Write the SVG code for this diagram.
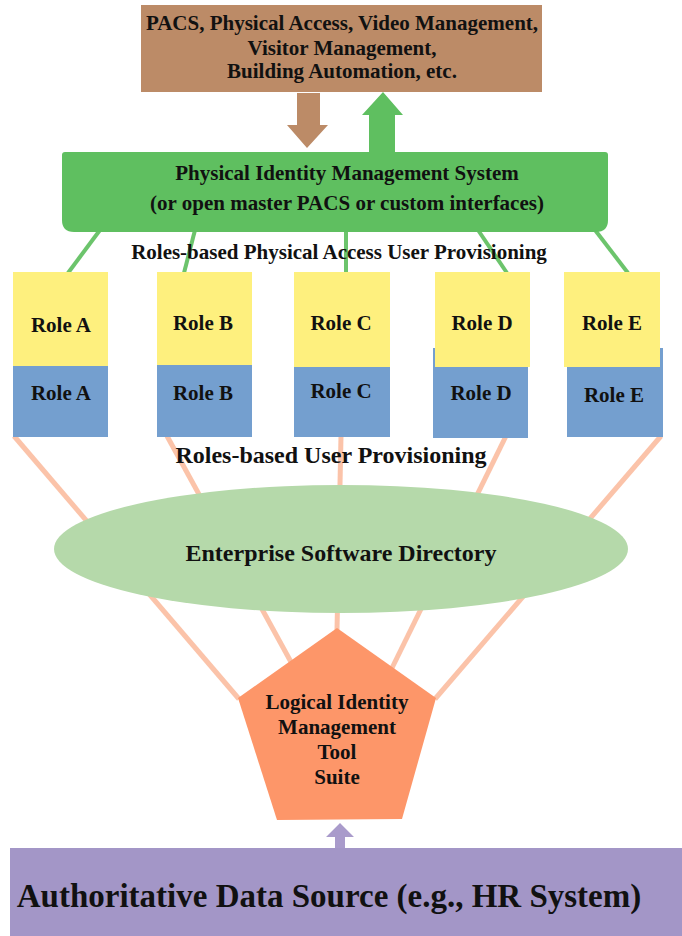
<svg xmlns="http://www.w3.org/2000/svg" width="682" height="936" viewBox="0 0 682 936">
  <style>
    text { font-family: "Liberation Serif", "Times New Roman", serif; font-weight: bold; fill: #111; text-anchor: middle; }
    .t21 { font-size: 21px; }
    .t24 { font-size: 24px; }
    .role { font-size: 21px; }
    .yellow { fill: #FEF07E; }
    .blue { fill: #749FCF; }
    .gline { stroke: #6CC46C; stroke-width: 4; stroke-linecap: butt; }
    .oline { stroke: #FBC3A9; stroke-width: 5; stroke-linecap: butt; }
  </style>

  <rect width="682" height="936" fill="#ffffff"/>

  <!-- connectors -->
  <g id="connectors">
    <!-- physical access provisioning links -->
    <line class="gline" x1="100" y1="230" x2="68" y2="273"/>
    <line class="gline" x1="195" y1="230" x2="184" y2="273"/>
    <line class="gline" x1="346" y1="230" x2="346" y2="273"/>
    <line class="gline" x1="478" y1="230" x2="507" y2="273"/>
    <line class="gline" x1="595" y1="230" x2="628" y2="273"/>
    <!-- user provisioning links, role to identity tool -->
    <line class="oline" x1="14" y1="436" x2="239" y2="699"/>
    <line class="oline" x1="167" y1="436" x2="291" y2="662"/>
    <line class="oline" x1="341" y1="436" x2="337" y2="630"/>
    <line class="oline" x1="506" y1="436" x2="392" y2="668"/>
    <line class="oline" x1="661" y1="436" x2="435" y2="699"/>
    <!-- brown down arrow -->
    <path d="M297,93 H320 V125 H328 L307,148 L287,125 H297 Z" fill="#BC8B67"/>
    <!-- green up arrow -->
    <path d="M383,92 L403,115 H395 V153 H369 V115 H362 Z" fill="#5FBF60"/>
    <!-- purple up arrow -->
    <path d="M340,823 L354,837 H345 V849 H335 V837 H326 Z" fill="#A99BCB"/>
  </g>

  <!-- top systems box -->
  <g id="systems">
    <rect x="141" y="5" width="401" height="87" fill="#BC8B67"/>
    <text class="t21" x="342" y="30">PACS, Physical Access, Video Management,</text>
    <text class="t21" x="342" y="55">Visitor Management,</text>
    <text class="t21" x="342" y="78">Building Automation, etc.</text>
  </g>

  <!-- physical identity management system -->
  <g id="pims">
    <path d="M65,152 H605 Q608,152 608,155 V220 Q608,232 596,232 H74 Q62,232 62,220 V155 Q62,152 65,152 Z" fill="#5FBF60"/>
    <text class="t21" x="347" y="180">Physical Identity Management System</text>
    <text class="t21" x="347" y="210">(or open master PACS or custom interfaces)</text>
  </g>

  <g id="label-physical">
    <text class="t21" x="339" y="259">Roles-based Physical Access User Provisioning</text>
  </g>

  <!-- roles -->
  <g id="role-a">
    <rect class="blue" x="13" y="365" width="95" height="72"/>
    <rect class="yellow" x="13" y="272" width="95" height="94"/>
    <text class="role" x="61" y="332">Role A</text>
    <text class="role" x="61" y="400">Role A</text>
  </g>
  <g id="role-b">
    <rect class="blue" x="157" y="364" width="95" height="73"/>
    <rect class="yellow" x="157" y="272" width="95" height="93"/>
    <text class="role" x="203" y="330">Role B</text>
    <text class="role" x="203" y="400">Role B</text>
  </g>
  <g id="role-c">
    <rect class="blue" x="294" y="366" width="96" height="71"/>
    <rect class="yellow" x="294" y="272" width="96" height="95"/>
    <text class="role" x="341" y="330">Role C</text>
    <text class="role" x="341" y="398">Role C</text>
  </g>
  <g id="role-d">
    <rect class="blue" x="433" y="348" width="95" height="90"/>
    <rect class="yellow" x="435" y="272" width="95" height="95"/>
    <text class="role" x="482" y="330">Role D</text>
    <text class="role" x="481" y="400">Role D</text>
  </g>
  <g id="role-e">
    <rect class="blue" x="567" y="348" width="96" height="89"/>
    <rect class="yellow" x="564" y="272" width="96" height="95"/>
    <text class="role" x="612" y="330">Role E</text>
    <text class="role" x="614" y="402">Role E</text>
  </g>

  <g id="label-user">
    <text class="t24" x="331" y="463">Roles-based User Provisioning</text>
  </g>

  <!-- directory -->
  <g id="directory">
    <ellipse cx="341" cy="549" rx="287" ry="64" fill="#B5D9AA"/>
    <text class="t24" x="341" y="561">Enterprise Software Directory</text>
  </g>

  <!-- identity management tool suite -->
  <g id="tool-suite">
    <polygon points="337,628 436,698 402,819 277,820 238,698" fill="#FD9669"/>
    <text class="t21" x="337" y="709">Logical Identity</text>
    <text class="t21" x="337" y="734">Management</text>
    <text class="t21" x="337" y="759">Tool</text>
    <text class="t21" x="337" y="784">Suite</text>
  </g>

  <!-- authoritative source -->
  <g id="data-source">
    <rect x="10" y="848" width="672" height="88" fill="#A396C7"/>
    <text style="font-size:33px" x="329" y="907">Authoritative Data Source (e.g., HR System)</text>
  </g>
</svg>
